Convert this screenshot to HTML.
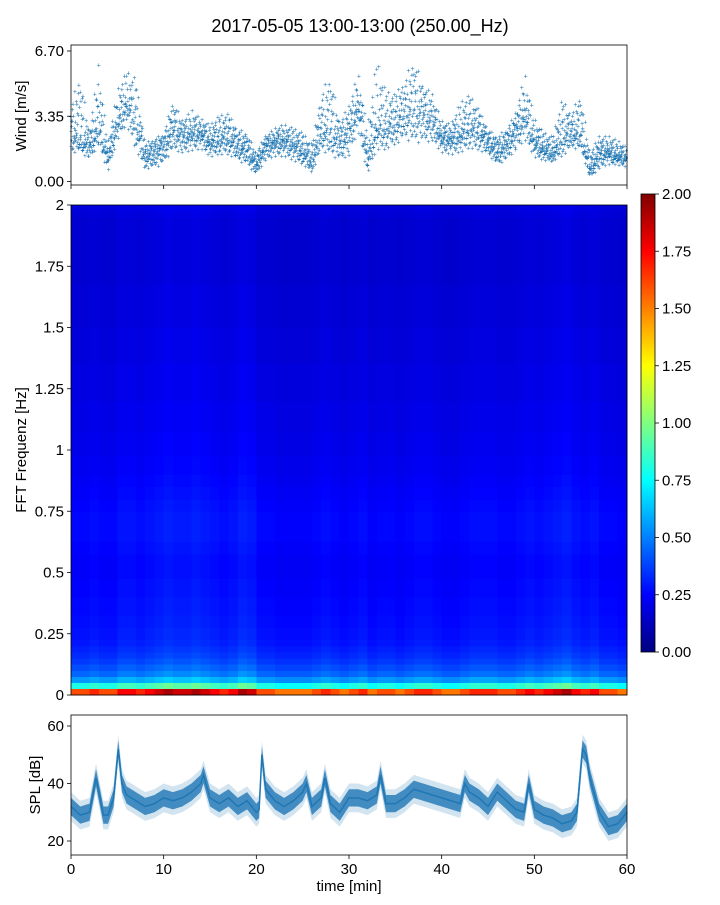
<!DOCTYPE html>
<html><head><meta charset="utf-8"><style>
body{margin:0;background:#fff;}
svg text{font-family:"Liberation Sans","DejaVu Sans",sans-serif;fill:#000;}
</style></head><body>
<svg id="fig" width="720" height="900" xmlns="http://www.w3.org/2000/svg">
<text x="360" y="32" font-size="18" text-anchor="middle">2017-05-05 13:00-13:00 (250.00_Hz)</text>
<g id="wind"></g>
<g id="spec"></g>
<g id="cbar"></g>
<g id="spl"></g>
</svg>
<script>
// ---------- data ----------
const windMid=[2.5,2.2,1.8,2.8,1.2,3.0,4.0,3.0,1.3,1.5,1.8,2.6,2.3,2.4,2.5,2.0,2.2,2.3,1.8,1.6,0.8,1.8,2.0,2.1,1.9,1.6,1.0,2.6,2.6,2.0,2.5,3.8,1.2,2.8,2.8,3.0,3.5,3.6,3.4,3.0,2.2,2.2,2.4,2.8,2.6,2.0,1.5,1.8,2.6,3.3,2.0,1.7,1.4,2.3,2.5,2.4,0.6,1.4,1.5,1.3,1.2];
const windLo=[1.3,1.5,1.0,1.8,0.4,2.0,2.8,1.5,0.6,0.6,0.8,1.5,1.4,1.5,1.6,1.2,1.3,1.3,1.0,0.8,0.3,1.0,1.2,1.2,1.0,0.8,0.4,1.5,1.2,1.0,1.2,2.5,0.3,1.5,1.5,1.8,2.0,1.8,1.8,2.0,1.4,1.3,1.4,1.6,1.5,1.3,0.8,1.0,1.5,2.0,1.2,1.0,1.0,1.2,1.6,1.6,0.1,0.6,0.8,0.8,0.7];
const windHi=[4.0,6.0,2.6,6.3,2.0,4.8,5.8,5.5,2.0,2.3,2.5,4.4,3.2,3.8,3.3,3.0,3.5,3.6,2.8,2.6,1.6,2.4,2.8,3.0,2.8,2.6,2.0,4.8,5.8,3.2,4.0,5.8,2.8,6.6,4.8,4.6,5.4,6.6,5.2,4.6,3.2,3.0,4.2,4.6,3.8,2.8,2.4,2.8,3.6,5.8,3.4,2.6,2.4,4.4,3.6,4.8,1.6,2.4,2.4,2.2,1.8];
const windTicks=[0,3.35,6.7];
const windTickLabels=["0.00","3.35","6.70"];

const freqProfile=[1.6,0.8,0.55,0.45,0.4,0.36,0.33,0.31,
0.29,0.28,0.28,0.27,0.27,0.26,0.26,0.26,0.25,0.25,0.25,0.24,
0.24,0.24,0.24,0.25,0.25,0.26,0.26,0.26,0.26,0.26,0.25,0.25,0.24,0.24,0.23,0.23,0.22,0.22,0.22,0.21,
0.21,0.21,0.21,0.20,0.20,0.20,0.20,0.20,0.19,0.19,0.19,0.19,0.19,0.19,0.18,0.18,0.18,0.18,0.18,0.18,
0.17,0.17,0.17,0.17,0.17,0.17,0.17,0.16,0.16,0.16,0.16,0.16,0.16,0.16,0.16,0.16,0.16,0.16,0.17,0.18];
const timeGain=[1.0,1.0,1.05,1.0,1.0,1.1,1.1,1.05,1.1,1.15,1.2,1.15,1.15,1.2,1.15,1.1,1.05,1.1,1.2,1.15,1.0,1.0,0.95,0.95,0.95,0.95,1.0,1.05,1.0,0.95,1.0,1.05,0.95,1.0,1.0,0.95,1.0,1.05,1.05,1.0,0.95,0.95,1.0,1.05,1.05,1.05,1.0,1.0,1.05,1.1,1.05,1.1,1.15,1.2,1.1,1.05,1.1,1.0,1.0,0.95];
const freqTicks=[0,0.25,0.5,0.75,1,1.25,1.5,1.75,2];
const freqTickLabels=["0","0.25","0.5","0.75","1","1.25","1.5","1.75","2"];
const cbarTicks=[0,0.25,0.5,0.75,1,1.25,1.5,1.75,2];
const cbarTickLabels=["0.00","0.25","0.50","0.75","1.00","1.25","1.50","1.75","2.00"];

const splTime=[0,1,2,2.7,3.5,4,4.6,5.1,5.5,6,7,8,9,10,11,12,13,14,14.3,15,16,17,18,19,20,20.3,20.6,21,22,23,24,25,25.4,26,27,27.4,28,29,30,31,32,33,33.4,34,35,36,37,38,39,40,41,42,42.5,43,44,45,46,47,48,48.9,49.4,50,51,52,53,54,54.6,55.2,55.6,56,57,58,59,60];
const splVal=[32,29,30,42,29,29,35,52,40,36,34,32,33,35,34,35,37,40,43,35,33,35,32,34,30,31,50,38,34,32,34,37,40,32,35,42,33,30,35,35,34,36,43,33,33,35,38,37,36,35,34,33,40,37,35,32,37,34,31,30,40,31,29,28,26,27,30,52,50,42,30,25,26,30];
const timeTicks=[0,10,20,30,40,50,60];
const splTicks=[20,40,60];

// ---------- geometry ----------
const X0=71,X1=627;
const xT=t=>X0+(t/60)*(X1-X0);
const NS='http://www.w3.org/2000/svg';
function mk(tag,parent,attrs){const e=document.createElementNS(NS,tag);for(const k in attrs)e.setAttribute(k,attrs[k]);parent.appendChild(e);return e;}
function jet(v){const x=Math.max(0,Math.min(1,v));const c=q=>Math.round(255*Math.max(0,Math.min(1,q)));
return `rgb(${c(1.5-Math.abs(4*x-3))},${c(1.5-Math.abs(4*x-2))},${c(1.5-Math.abs(4*x-1))})`;}

// ---------- wind panel ----------
const gW=document.getElementById('wind');
const WY0=181.5,WY1=51;
const yW=v=>WY0-(v/6.7)*(WY0-WY1);
const spread=[0.05,-0.42,0.63,-0.12,0.27,-0.71,0.91,-0.33,0.14,-0.56,0.44,-0.05,0.78,-0.24,0.35,-0.88,0.2,-0.15,0.55,-0.4,0.02,-0.65,0.1,0.68,-0.3,0.38,-0.08];
for(let m=0;m<60;m++){
  for(let k=0;k<14;k++){
    const f=k/14;
    const t=m+f;
    const mid=windMid[m]*(1-f)+windMid[m+1]*f;
    const lo=windLo[m]*(1-f)+windLo[m+1]*f;
    const hi=windHi[m]*(1-f)+windHi[m+1]*f;
    for(let j=0;j<3;j++){
      const s=spread[(m*11+k*7+j*9)%27];
      const v=s>=0?mid+s*(hi-mid):mid+s*(mid-lo);
      const p=mk('text',gW,{x:xT(t),y:yW(v)+2.5,'font-size':7,'text-anchor':'middle',style:'fill:#1f77b4'});
      p.textContent='+';
      
      
    }
  }
}
mk('rect',gW,{x:X0,y:45,width:X1-X0,height:140,fill:'none',stroke:'#000','stroke-width':0.8});
windTicks.forEach((v,i)=>{
  mk('line',gW,{x1:X0-4,x2:X0,y1:yW(v),y2:yW(v),stroke:'#000','stroke-width':0.8});
  const t=mk('text',gW,{x:X0-7,y:yW(v)+5,'font-size':15,'text-anchor':'end'});t.textContent=windTickLabels[i];
  
  
});
timeTicks.forEach(v=>mk('line',gW,{x1:xT(v),x2:xT(v),y1:185,y2:189,stroke:'#000','stroke-width':0.8}));
{const t=mk('text',gW,{x:0,y:0,'font-size':15,'text-anchor':'middle',transform:'translate(26,116) rotate(-90)'});t.textContent='Wind [m/s]';

}

// ---------- spectrogram ----------
const gS=document.getElementById('spec');
const SY0=695,SY1=205;
const yF=f=>SY0-(f/2)*(SY0-SY1);
const df=2/freqProfile.length;
for(let c=0;c<timeGain.length;c++){
  for(let r=0;r<freqProfile.length;r++){
    const v=freqProfile[r]*timeGain[c];
    const x=xT(c), w=xT(c+1)-x+0.3;
    const y=yF((r+1)*df), h=yF(r*df)-y+0.3;
    const rc=mk('rect',gS,{x:x,y:y,width:w,height:h,fill:jet(v/2),'shape-rendering':'crispEdges'});
    
    
  }
}
mk('rect',gS,{x:X0,y:SY1,width:X1-X0,height:SY0-SY1,fill:'none',stroke:'#000','stroke-width':0.8});
freqTicks.forEach((v,i)=>{
  mk('line',gS,{x1:X0-4,x2:X0,y1:yF(v),y2:yF(v),stroke:'#000','stroke-width':0.8});
  const t=mk('text',gS,{x:X0-7,y:yF(v)+5,'font-size':15,'text-anchor':'end'});t.textContent=freqTickLabels[i];
  
  
});
{const t=mk('text',gS,{x:0,y:0,'font-size':15,'text-anchor':'middle',transform:'translate(26,450) rotate(-90)'});t.textContent='FFT Frequenz [Hz]';

}

// ---------- colorbar ----------
const gC=document.getElementById('cbar');
const CY0=652,CY1=194;
const defs=mk('defs',gC,{});
const lg=mk('linearGradient',defs,{id:'jetg',x1:0,y1:1,x2:0,y2:0});
for(let i=0;i<=16;i++){mk('stop',lg,{offset:i/16,'stop-color':jet(i/16)});}
mk('rect',gC,{x:641,y:CY1,width:14,height:CY0-CY1,fill:'url(#jetg)',stroke:'#000','stroke-width':0.8});
cbarTicks.forEach((v,i)=>{
  const y=CY0-(v/2)*(CY0-CY1);
  mk('line',gC,{x1:655,x2:659,y1:y,y2:y,stroke:'#000','stroke-width':0.8});
  const t=mk('text',gC,{x:662,y:y+5,'font-size':15});t.textContent=cbarTickLabels[i];
  
  
});

// ---------- SPL ----------
const gP=document.getElementById('spl');
const yS=v=>841-(v-20)*(115/40);
let up=[],dn=[],up2=[],dn2=[],ln=[];
splTime.forEach((t,i)=>{const x=xT(t);const v=splVal[i];
  up.push(x+','+yS(v+5));dn.unshift(x+','+yS(v-5));
  up2.push(x+','+yS(v+3));dn2.unshift(x+','+yS(v-3));ln.push(x+','+yS(v));});
const b1=mk('polygon',gP,{points:up.concat(dn).join(' '),fill:'#1f77b4','fill-opacity':0.2});


const b2=mk('polygon',gP,{points:up2.concat(dn2).join(' '),fill:'#2a7db8','fill-opacity':0.85});


const pl=mk('polyline',gP,{points:ln.join(' '),fill:'none',stroke:'#1f77b4','stroke-width':1.5});


mk('rect',gP,{x:X0,y:715,width:X1-X0,height:140,fill:'none',stroke:'#000','stroke-width':0.8});
splTicks.forEach(v=>{
  mk('line',gP,{x1:X0-4,x2:X0,y1:yS(v),y2:yS(v),stroke:'#000','stroke-width':0.8});
  const t=mk('text',gP,{x:X0-7,y:yS(v)+5,'font-size':15,'text-anchor':'end'});t.textContent=String(v);
  
  
});
timeTicks.forEach(v=>{
  mk('line',gP,{x1:xT(v),x2:xT(v),y1:855,y2:859,stroke:'#000','stroke-width':0.8});
  const t=mk('text',gP,{x:xT(v),y:874,'font-size':15,'text-anchor':'middle'});t.textContent=String(v);
  
  
});
{const t=mk('text',gP,{x:349,y:891,'font-size':15,'text-anchor':'middle'});t.textContent='time [min]';


const t2=mk('text',gP,{x:0,y:0,'font-size':15,'text-anchor':'middle',transform:'translate(40,785) rotate(-90)'});t2.textContent='SPL [dB]';

}
</script>
</body></html>
